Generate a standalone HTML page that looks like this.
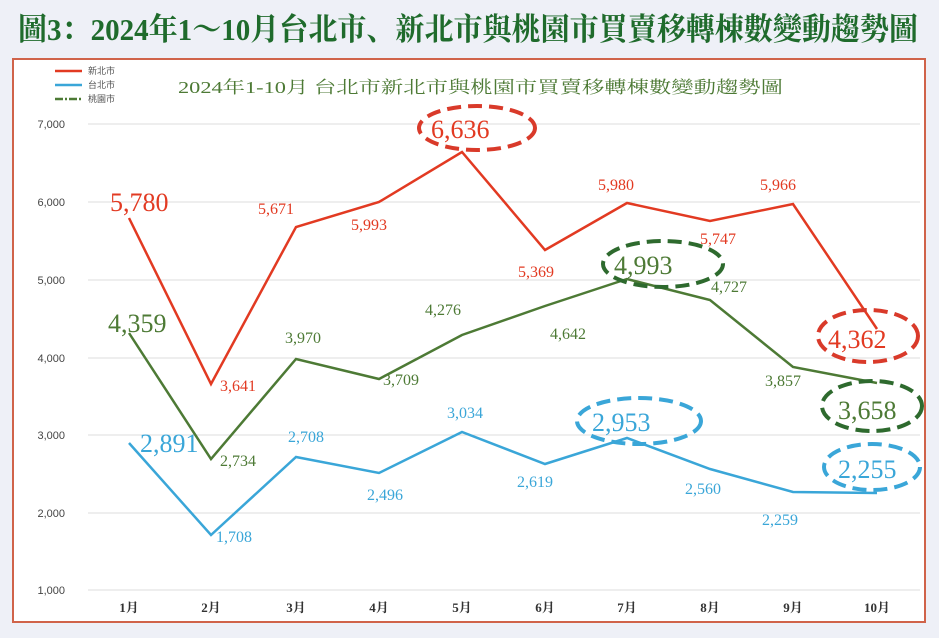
<!DOCTYPE html>
<html><head><meta charset="utf-8"><style>
body{margin:0;width:939px;height:638px;background:#eef0f7;overflow:hidden}
svg{display:block}
</style></head><body>
<svg width="939" height="638" xmlns="http://www.w3.org/2000/svg" font-family="'Liberation Serif','Noto Serif CJK SC',serif">
<text x="18" y="40" font-size="31" fill="#1f6b2c" font-weight="bold" textLength="900" lengthAdjust="spacingAndGlyphs">圖3：2024年1～10月台北市、新北市與桃園市買賣移轉棟數變動趨勢圖</text>
<rect x="13" y="59" width="912" height="563" fill="#fff" stroke="#d0634a" stroke-width="2"/>
<text x="178" y="93" font-size="17" fill="#4d7a35" textLength="605" lengthAdjust="spacingAndGlyphs">2024年1-10月 台北市新北市與桃園市買賣移轉棟數變動趨勢圖</text>
<g font-size="9" fill="#555" font-family="'Liberation Serif','Noto Sans CJK SC',sans-serif">
<line x1="55" y1="71" x2="82" y2="71" stroke="#e23a22" stroke-width="2.5"/><text x="88" y="74">新北市</text>
<line x1="55" y1="85" x2="82" y2="85" stroke="#3aa6d8" stroke-width="2.5"/><text x="88" y="88">台北市</text>
<line x1="55" y1="99" x2="82" y2="99" stroke="#4d7a35" stroke-width="2.5" stroke-dasharray="8,2,2,2"/><text x="88" y="102">桃園市</text>
</g>
<g stroke="#ddd" stroke-width="1">
<line x1="88" y1="124" x2="920" y2="124"/><line x1="88" y1="202" x2="920" y2="202"/><line x1="88" y1="280" x2="920" y2="280"/><line x1="88" y1="358" x2="920" y2="358"/><line x1="88" y1="435" x2="920" y2="435"/><line x1="88" y1="513" x2="920" y2="513"/><line x1="88" y1="590" x2="920" y2="590"/>
</g>
<g font-family="'Liberation Sans',sans-serif" font-size="11" fill="#444" text-anchor="end">
<text x="65" y="128">7,000</text><text x="65" y="206">6,000</text><text x="65" y="284">5,000</text><text x="65" y="362">4,000</text><text x="65" y="439">3,000</text><text x="65" y="517">2,000</text><text x="65" y="594">1,000</text>
</g>
<g font-size="13" fill="#333" font-weight="bold" text-anchor="middle">
<text x="129" y="612">1月</text><text x="211" y="612">2月</text><text x="296" y="612">3月</text><text x="379" y="612">4月</text><text x="462" y="612">5月</text><text x="545" y="612">6月</text><text x="627" y="612">7月</text><text x="710" y="612">8月</text><text x="793" y="612">9月</text><text x="877" y="612">10月</text>
</g>
<polyline fill="none" stroke="#e23a22" stroke-width="2.5" points="129,218 211,384 296,227 379,202 462,152 545,250 627,203 710,221 793,204 877,329"/>
<polyline fill="none" stroke="#4d7a35" stroke-width="2.5" points="129,333 211,459 296,359 379,379 462,335 545,306 627,279 710,300 793,367 877,383"/>
<polyline fill="none" stroke="#3aa6d8" stroke-width="2.5" points="129,443 211,535 296,457 379,473 462,432 545,464 627,438 710,469 793,492 877,493"/>
<g font-size="16" fill="#e23a22">
<text x="110" y="211" font-size="26">5,780</text><text x="220" y="391">3,641</text><text x="258" y="214">5,671</text><text x="351" y="230">5,993</text><text x="518" y="277">5,369</text><text x="598" y="190">5,980</text><text x="700" y="244">5,747</text><text x="760" y="190">5,966</text>
<text x="431" y="138" font-size="26">6,636</text><text x="828" y="348" font-size="26">4,362</text>
</g>
<g font-size="16" fill="#4d7a35">
<text x="108" y="332" font-size="26">4,359</text><text x="220" y="466">2,734</text><text x="285" y="343">3,970</text><text x="383" y="385">3,709</text><text x="425" y="315">4,276</text><text x="550" y="339">4,642</text><text x="711" y="292">4,727</text><text x="765" y="386">3,857</text>
<text x="614" y="274" font-size="26">4,993</text><text x="838" y="419" font-size="26">3,658</text>
</g>
<g font-size="16" fill="#3aa6d8">
<text x="140" y="452" font-size="26">2,891</text><text x="216" y="542">1,708</text><text x="288" y="442">2,708</text><text x="367" y="500">2,496</text><text x="447" y="418">3,034</text><text x="517" y="487">2,619</text><text x="685" y="494">2,560</text><text x="762" y="525">2,259</text>
<text x="592" y="431" font-size="26">2,953</text><text x="838" y="478" font-size="26">2,255</text>
</g>
<g fill="none" stroke-width="4" stroke-dasharray="14,7">
<ellipse cx="477" cy="128" rx="58" ry="22" stroke="#d93a2a"/>
<ellipse cx="868" cy="336" rx="50" ry="26" stroke="#d93a2a"/>
<ellipse cx="663" cy="264" rx="60" ry="23" stroke="#2e6a2e"/>
<ellipse cx="872" cy="406" rx="50" ry="25" stroke="#2e6a2e"/>
<ellipse cx="639" cy="421" rx="62" ry="23" stroke="#3aa6d8"/>
<ellipse cx="872" cy="467" rx="48" ry="23" stroke="#3aa6d8"/>
</g>
</svg>
</body></html>
